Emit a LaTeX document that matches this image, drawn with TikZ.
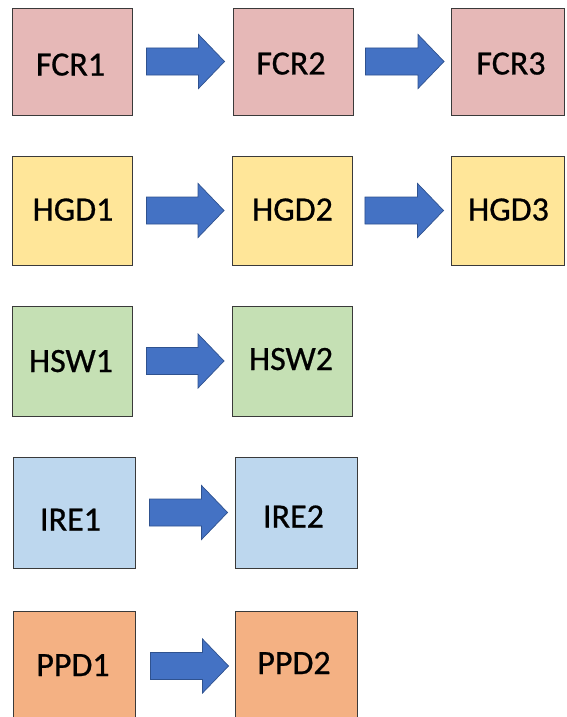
\documentclass[tikz,border=0pt]{standalone}
\usepackage{fontspec}
\setmainfont{Carlito}
\newfontfamily\stagefont[FakeBold=0.7]{Carlito}
\usetikzlibrary{calc}

\definecolor{fcrfill}{HTML}{E6B8B7}
\definecolor{hgdfill}{HTML}{FFE699}
\definecolor{hswfill}{HTML}{C5E0B4}
\definecolor{irefill}{HTML}{BDD7EE}
\definecolor{ppdfill}{HTML}{F4B183}
\definecolor{arrowblue}{HTML}{4472C4}
\definecolor{arrowedge}{HTML}{2F528F}
\definecolor{boxedge}{HTML}{3A3A3A}

% label text: cap-centred on the node centre, nudged by (dx, dy) in px
\newcommand\boxlabel[3]{\makebox[0pt]{\hspace*{#1pt}\raisebox{\dimexpr-11pt-#2pt\relax}{#3}}}

\tikzset{
  stage/.style={draw=boxedge, line width=0.9pt, inner sep=0pt,
    text height=0pt, text depth=0pt,
    font=\stagefont\fontsize{34}{34}\selectfont, text=black},
  wide/.style={minimum width=120pt},
  blockarrow/.style={fill=arrowblue, draw=arrowedge, line width=0.7pt,
    to path={let \p1=(\tikztostart), \p2=(\tikztotarget) in
      (\x1,\y1+13.5pt) -- (\x2-26pt,\y1+13.5pt) -- (\x2-26pt,\y1+27pt)
      -- (\x2,\y1) -- (\x2-26pt,\y1-27pt) -- (\x2-26pt,\y1-13.5pt)
      -- (\x1,\y1-13.5pt) -- cycle}},
}

\begin{document}
\begin{tikzpicture}[x=1pt, y=-1pt]
  \useasboundingbox (0,0) rectangle (566,717);
  \clip (0,0) rectangle (566,717);

  % FCR row
  \node[stage, wide, minimum height=107pt, fill=fcrfill] (fcr1) at (72,61.5) {\boxlabel{-3}{3}{FCR1}};
  \node[stage, wide, minimum height=107pt, fill=fcrfill] (fcr2) at (293,61.5) {\boxlabel{-4}{2}{FCR2}};
  \node[stage, minimum width=113pt, minimum height=107pt, fill=fcrfill] (fcr3) at (508,61.5) {\boxlabel{6}{2}{FCR3}};
  \draw[blockarrow] ([xshift=14pt]fcr1.east) to ([xshift=-8pt]fcr2.west);
  \draw[blockarrow] ([xshift=12pt]fcr2.east) to ([xshift=-7pt]fcr3.west);

  % HGD row
  \node[stage, wide, minimum height=109pt, fill=hgdfill] (hgd1) at (72,210.5) {\boxlabel{2}{-1}{HGD1}};
  \node[stage, wide, minimum height=109pt, fill=hgdfill] (hgd2) at (292.5,210.5) {\boxlabel{0}{-1}{HGD2}};
  \node[stage, minimum width=113pt, minimum height=109pt, fill=hgdfill] (hgd3) at (507.5,210.5) {\boxlabel{2}{-1}{HGD3}};
  \draw[blockarrow] ([xshift=14pt]hgd1.east) to ([xshift=-8pt]hgd2.west);
  \draw[blockarrow] ([xshift=12pt]hgd2.east) to ([xshift=-7pt]hgd3.west);

  % HSW row
  \node[stage, wide, minimum height=110pt, fill=hswfill] (hsw1) at (72,361) {\boxlabel{-2}{0}{HSW1}};
  \node[stage, wide, minimum height=110pt, fill=hswfill] (hsw2) at (292.5,361) {\boxlabel{-3}{-2}{HSW2}};
  \draw[blockarrow] ([xshift=14pt]hsw1.east) to ([xshift=-8pt]hsw2.west);

  % IRE row
  \node[stage, minimum width=122pt, minimum height=111pt, fill=irefill] (ire1) at (74,512.5) {\boxlabel{-7}{7}{IRE1}};
  \node[stage, minimum width=122pt, minimum height=111pt, fill=irefill] (ire2) at (296,512.5) {\boxlabel{-5}{4}{IRE2}};
  \draw[blockarrow] ([xshift=14pt]ire1.east) to ([xshift=-7pt]ire2.west);

  % PPD row
  \node[stage, minimum width=122pt, minimum height=110pt, fill=ppdfill] (ppd1) at (74,666) {\boxlabel{-2}{-1}{PPD1}};
  \node[stage, minimum width=122pt, minimum height=110pt, fill=ppdfill] (ppd2) at (296,666) {\boxlabel{-4}{-3}{PPD2}};
  \draw[blockarrow] ([xshift=15pt]ppd1.east) to ([xshift=-6pt]ppd2.west);
\end{tikzpicture}
\end{document}
